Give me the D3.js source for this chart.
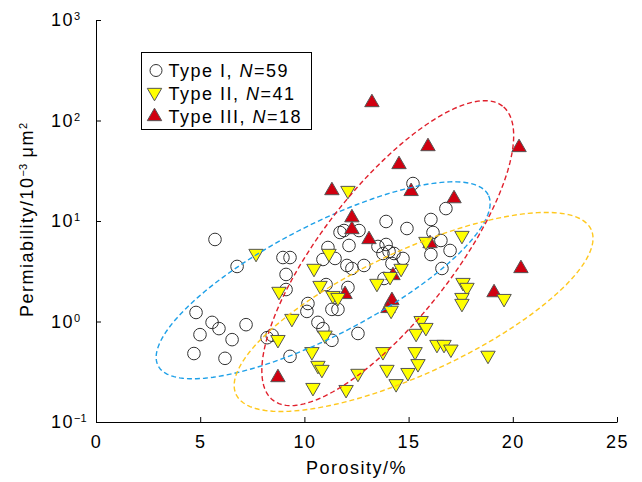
<!DOCTYPE html>
<html>
<head>
<meta charset="utf-8">
<script src="https://cdn.jsdelivr.net/npm/d3@7"></script>
<style>
  body { margin: 0; background: #fff; }
  svg { display: block; font-family: Arial, "Liberation Sans", sans-serif; }
</style>
</head>
<body>
<main></main>
<script>
// porosity (%) and permeability (10^-3 um^2)
const type1Por = [5.71, 6.77, 8.97, 9.31, 9.12, 9.12, 4.80, 5.57, 5.90, 7.20, 4.99, 6.53, 4.70, 6.19,
  8.21, 8.45, 9.31, 10.17, 10.12, 11.04, 12.09, 11.32, 11.61, 10.65, 10.89, 11.32, 12.57, 15.21,
  16.79, 16.07, 13.92, 14.92, 16.17, 16.55, 16.99, 16.07, 16.60, 11.71, 11.90, 11.13, 12.14, 13.53,
  13.92, 13.77, 14.06, 14.30, 14.73, 10.89, 11.47, 12.04, 12.28, 12.86, 14.20, 13.82, 12.62]
const type1Perm = [6.55, 3.53, 4.33, 4.33, 2.94, 2.08, 1.23, 0.98, 0.85, 0.93, 0.74, 0.66, 0.48, 0.43,
  0.69, 0.73, 0.45, 1.51, 1.26, 2.33, 2.18, 1.32, 1.32, 0.98, 0.85, 0.65, 0.76, 23.6,
  13.3, 10.35, 9.89, 8.42, 7.69, 6.40, 5.09, 4.64, 3.37, 7.69, 8.04, 5.45, 5.71, 5.58,
  5.84, 4.75, 4.97, 4.75, 4.24, 4.14, 4.24, 3.61, 3.37, 3.61, 3.78, 2.68, 8.04]

const type2Por = [12.09, 7.68, 8.78, 9.40, 8.73, 10.75, 11.37, 11.61, 10.99, 10.36, 10.65, 10.84, 10.41,
  12.00, 12.57, 13.48, 14.16, 13.77, 13.96, 14.40, 14.97, 15.45, 15.36, 15.60, 15.83, 15.31, 16.36,
  16.70, 17.03, 18.81, 17.61, 17.80, 17.56, 17.56, 19.58, 17.56, 15.83, 11.18, 10.46, 14.11, 14.64]
const type2Perm = [20.1, 4.75, 1.99, 1.07, 0.66, 2.28, 1.81, 1.73, 0.73, 0.50, 0.365, 0.333, 0.22,
  0.21, 0.304, 2.39, 1.29, 0.50, 0.333, 0.24, 0.31, 0.38, 0.76, 1.02, 0.87, 0.50, 0.59,
  0.59, 0.53, 0.46, 2.44, 2.18, 1.73, 1.51, 1.69, 7.17, 6.25, 4.75, 3.37, 2.80, 3.37]

const type3Por = [13.24, 15.93, 14.54, 20.30, 11.32, 12.28, 15.12, 17.18, 12.28, 13.10, 16.03, 20.39,
  14.20, 14.01, 11.95, 19.10, 8.73, 14.25]
const type3Perm = [151, 55.1, 36.5, 53.9, 20.1, 10.8, 19.7, 16.7, 8.23, 6.55, 5.97, 3.37,
  1.62, 1.35, 1.86, 1.94, 0.277, 2.87]

// ellipses in (porosity, log10 permeability): centre, major and minor half-axis vectors
const ellipseNames = ['type1', 'type3', 'type2']
const ellipseCentres = [[10.9, 0.41], [14.0, 0.68], [15.24, 0.095]]
const ellipseMajor = [[7.92, 0.85], [5.51, 1.463], [8.52, 0.82]]
const ellipseMinor = [[-1.22, 0.488], [-2.48, 0.402], [-1.24, 0.555]]
const ellipseColors = ['#1ea0e8', '#e0202c', '#ffc81e']

const xTicks = [0, 5, 10, 15, 20, 25]
const yTicks = [0.1, 1, 10, 100, 1000]
const yTickExp = ['−1', '0', '1', '2', '3']

const legendLabels = [['Type I, ', '=59'], ['Type II, ', '=41'], ['Type III, ', '=18']]

const width = 642
const height = 482
const margin = { left: 96, right: 25, top: 20, bottom: 60 }

const svg = d3.select('main')
  .append('svg')
  .attr('width', width)
  .attr('height', height)

const xScale = d3.scaleLinear()
  .domain([0, 25])
  .range([margin.left, width - margin.right])

const yScale = d3.scaleLog()
  .domain([0.1, 1000])
  .range([height - margin.bottom, margin.top])

const fontSize = 18
const spacing = 1.5

// axes
const xAxis = svg.append('g')
  .attr('transform', `translate(0, ${height - margin.bottom})`)
  .call(d3.axisBottom(xScale).tickValues(xTicks).tickSizeInner(-5).tickSizeOuter(0).tickPadding(13))
xAxis.selectAll('text')
  .attr('font-size', fontSize)
  .attr('font-family', 'Arial, "Liberation Sans", sans-serif')
  .attr('letter-spacing', spacing)
  .attr('fill', '#000')

const yAxis = svg.append('g')
  .attr('transform', `translate(${margin.left}, 0)`)
  .call(d3.axisLeft(yScale).tickValues(yTicks).tickSizeInner(-5).tickSizeOuter(0).tickFormat(''))

svg.selectAll('.domain, .tick line').attr('stroke', '#000').attr('stroke-width', 1)

const yLabels = svg.append('g')
  .selectAll('text')
  .data(yTicks)
  .enter()
  .append('text')
  .attr('x', margin.left - 45)
  .attr('y', d => yScale(d) + 6)
  .attr('font-size', fontSize)
  .attr('letter-spacing', spacing)
yLabels.append('tspan').text('10')
yLabels.append('tspan')
  .attr('dy', -6)
  .attr('font-size', 11)
  .attr('letter-spacing', 0)
  .text((d, i) => yTickExp[i])

// axis titles
svg.append('text')
  .attr('x', (xScale(0) + xScale(25)) / 2)
  .attr('y', 474)
  .attr('text-anchor', 'middle')
  .attr('font-size', fontSize)
  .attr('letter-spacing', spacing)
  .text('Porosity/%')

const yTitle = svg.append('text')
  .attr('transform', `translate(33, 220) rotate(-90)`)
  .attr('text-anchor', 'middle')
  .attr('font-size', fontSize)
  .attr('letter-spacing', spacing)
yTitle.append('tspan').text('Permiability/10')
yTitle.append('tspan').attr('dy', -6).attr('font-size', 11).attr('letter-spacing', 0).text('−3')
yTitle.append('tspan').attr('dy', 6).text(' μm')
yTitle.append('tspan').attr('dy', -6).attr('font-size', 11).attr('letter-spacing', 0).text('2')

// markers
const triUp = d3.symbol().type(d3.symbolTriangle).size(90)

svg.append('g')
  .selectAll('circle')
  .data(type1Por)
  .enter()
  .append('circle')
  .attr('cx', d => xScale(d))
  .attr('cy', (d, i) => yScale(type1Perm[i]))
  .attr('r', 6.3)
  .attr('fill', 'none')
  .attr('stroke', '#333')
  .attr('stroke-width', 1)

svg.append('g')
  .selectAll('path')
  .data(type3Por)
  .enter()
  .append('path')
  .attr('d', triUp)
  .attr('transform', (d, i) => `translate(${xScale(d)}, ${yScale(type3Perm[i])})`)
  .attr('fill', '#d00010')
  .attr('stroke', '#555')
  .attr('stroke-width', 1)

svg.append('g')
  .selectAll('path')
  .data(type2Por)
  .enter()
  .append('path')
  .attr('d', triUp)
  .attr('transform', (d, i) => `translate(${xScale(d)}, ${yScale(type2Perm[i])}) rotate(180)`)
  .attr('fill', '#ffff00')
  .attr('stroke', '#555')
  .attr('stroke-width', 1)

// confidence ellipses
const line = d3.line().x(d => xScale(d[0])).y(d => yScale(Math.pow(10, d[1])))
const angles = d3.range(0, 2 * Math.PI + 0.001, Math.PI / 90)

ellipseNames.forEach((name, k) => {
  const c = ellipseCentres[k]
  const u = ellipseMajor[k]
  const v = ellipseMinor[k]
  const pts = angles.map(t => [
    c[0] + u[0] * Math.cos(t) + v[0] * Math.sin(t),
    c[1] + u[1] * Math.cos(t) + v[1] * Math.sin(t)
  ])
  svg.append('path')
    .attr('class', 'ellipse ' + name)
    .attr('d', line(pts))
    .attr('fill', 'none')
    .attr('stroke', ellipseColors[k])
    .attr('stroke-width', 1.4)
    .attr('stroke-dasharray', '5,3')
})

// legend
const legend = svg.append('g').attr('transform', 'translate(141.5, 52.5)')
legend.append('rect')
  .attr('width', 170)
  .attr('height', 77)
  .attr('fill', '#fff')
  .attr('stroke', '#000')
  .attr('stroke-width', 1)

legend.append('circle')
  .attr('cx', 14.5).attr('cy', 18).attr('r', 6)
  .attr('fill', 'none').attr('stroke', '#333')
legend.append('path')
  .attr('d', triUp)
  .attr('transform', 'translate(13, 40) rotate(180)')
  .attr('fill', '#ffff00').attr('stroke', '#555')
legend.append('path')
  .attr('d', triUp)
  .attr('transform', 'translate(13, 64)')
  .attr('fill', '#d00010').attr('stroke', '#555')

const legendText = legend.selectAll('text.lab')
  .data(legendLabels)
  .enter()
  .append('text')
  .attr('class', 'lab')
  .attr('x', 27)
  .attr('y', (d, i) => 24 + i * 23)
  .attr('font-size', fontSize)
  .attr('letter-spacing', spacing)
legendText.append('tspan').text(d => d[0])
legendText.append('tspan').attr('font-style', 'italic').text('N')
legendText.append('tspan').text(d => d[1])
</script>
</body>
</html>
